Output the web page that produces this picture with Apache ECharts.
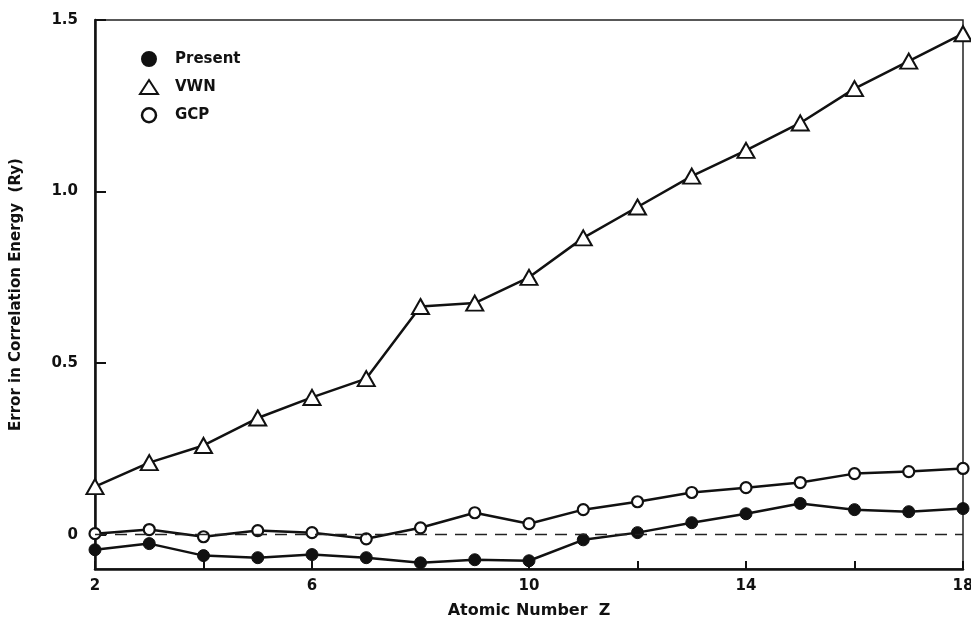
<!DOCTYPE html>
<html>
<head>
<meta charset="utf-8">
<script src="https://cdn.jsdelivr.net/npm/echarts@6/dist/echarts.min.js"></script>
<style>
  html, body { margin: 0; padding: 0; background: #fff; }
  #chart { width: 971px; height: 622px; }
</style>
</head>
<body>
<div id="chart"></div>
<script>
// Atomic numbers He (2) to Ar (18)
const atomicNumbers = [2, 3, 4, 5, 6, 7, 8, 9, 10, 11, 12, 13, 14, 15, 16, 17, 18];

// Error in correlation energy (Ry) for each functional
const presentErr = [-0.044, -0.026, -0.061, -0.067, -0.058, -0.067, -0.082, -0.073, -0.076,
                    -0.015, 0.006, 0.035, 0.061, 0.091, 0.073, 0.067, 0.076];
const vwnErr = [0.14, 0.21, 0.26, 0.34, 0.40, 0.455, 0.665, 0.675, 0.75,
                0.865, 0.955, 1.045, 1.12, 1.20, 1.30, 1.38, 1.46];
const gcpErr = [0.003, 0.015, -0.006, 0.012, 0.006, -0.012, 0.02, 0.064, 0.032,
                0.073, 0.096, 0.123, 0.137, 0.152, 0.178, 0.184, 0.193];

// Tick positions and labels
const xTickValues = [2, 4, 6, 8, 10, 12, 14, 16, 18];
const xLabelValues = [2, 6, 10, 14, 18];
const yTickValues = [0, 0.5, 1.0, 1.5];
const yLabelValues = [0, 0.5, 1.0, 1.5];

const pairs = vals => atomicNumbers.map((z, i) => [z, vals[i]]);

const FONT = '"DejaVu Sans", sans-serif';
const chart = echarts.init(document.getElementById('chart'));

chart.setOption({
  animation: false,
  backgroundColor: '#fff',
  grid: {
    left: 95, right: 8, top: 20, bottom: 53,
    outerBoundsMode: 'none',
    containLabel: false,
    show: true, borderColor: '#222', borderWidth: 1.5
  },
  legend: {
    orient: 'vertical',
    left: 134, top: 46,
    itemGap: 12,
    itemWidth: 18, itemHeight: 14,
    textStyle: { fontFamily: FONT, fontWeight: 'bold', fontSize: 15, color: '#111', padding: [0, 0, 0, 12] },
    data: [
      { name: 'Present', icon: 'circle', itemStyle: { color: '#111', borderColor: '#111', borderWidth: 2 } },
      { name: 'VWN', icon: 'triangle', itemStyle: { color: '#fff', borderColor: '#111', borderWidth: 2 } },
      { name: 'GCP', icon: 'circle', itemStyle: { color: '#fff', borderColor: '#111', borderWidth: 2.5 } }
    ]
  },
  xAxis: {
    type: 'value',
    min: 2, max: 18,
    name: 'Atomic Number  Z',
    nameLocation: 'middle',
    nameGap: 34,
    nameTextStyle: { fontFamily: FONT, fontWeight: 'bold', fontSize: 16, color: '#111' },
    axisLine: { show: true, onZero: false, lineStyle: { color: '#111', width: 2.5 } },
    axisTick: { show: true, inside: true, length: 8, customValues: xTickValues, lineStyle: { color: '#111', width: 2 } },
    axisLabel: {
      customValues: xLabelValues, margin: 10,
      fontFamily: FONT, fontWeight: 'bold', fontSize: 15, color: '#111'
    },
    splitLine: { show: false }
  },
  yAxis: {
    type: 'value',
    min: -0.1, max: 1.5,
    name: 'Error in Correlation Energy  (Ry)',
    nameLocation: 'middle',
    nameGap: 71,
    nameRotate: 90,
    nameTextStyle: { fontFamily: FONT, fontWeight: 'bold', fontSize: 15, color: '#111' },
    axisLine: { show: true, onZero: false, lineStyle: { color: '#111', width: 2.5 } },
    axisTick: { show: true, inside: true, length: 11, customValues: yTickValues, lineStyle: { color: '#111', width: 2 } },
    axisLabel: {
      customValues: yLabelValues, margin: 17,
      fontFamily: FONT, fontWeight: 'bold', fontSize: 15, color: '#111',
      formatter: v => (v === 0 ? '0' : v.toFixed(1))
    },
    splitLine: { show: false }
  },
  series: [
    {
      name: 'Present',
      type: 'line',
      data: pairs(presentErr),
      clip: false,
      symbol: 'circle',
      symbolSize: 12,
      itemStyle: { color: '#111', borderColor: '#111', borderWidth: 1 },
      lineStyle: { color: '#111', width: 2.5 },
      z: 3,
      markLine: {
        silent: true,
        symbol: 'none',
        label: { show: false },
        lineStyle: { color: '#222', type: [12, 8], width: 1.4 },
        data: [{ yAxis: 0 }]
      }
    },
    {
      name: 'VWN',
      type: 'line',
      data: pairs(vwnErr),
      clip: false,
      symbol: 'triangle',
      symbolSize: [17, 15],
      itemStyle: { color: '#fff', borderColor: '#111', borderWidth: 2 },
      lineStyle: { color: '#111', width: 2.5 },
      z: 3
    },
    {
      name: 'GCP',
      type: 'line',
      data: pairs(gcpErr),
      clip: false,
      symbol: 'circle',
      symbolSize: 11,
      itemStyle: { color: '#fff', borderColor: '#111', borderWidth: 2.2 },
      lineStyle: { color: '#111', width: 2.5 },
      z: 4
    }
  ]
});
</script>
</body>
</html>
